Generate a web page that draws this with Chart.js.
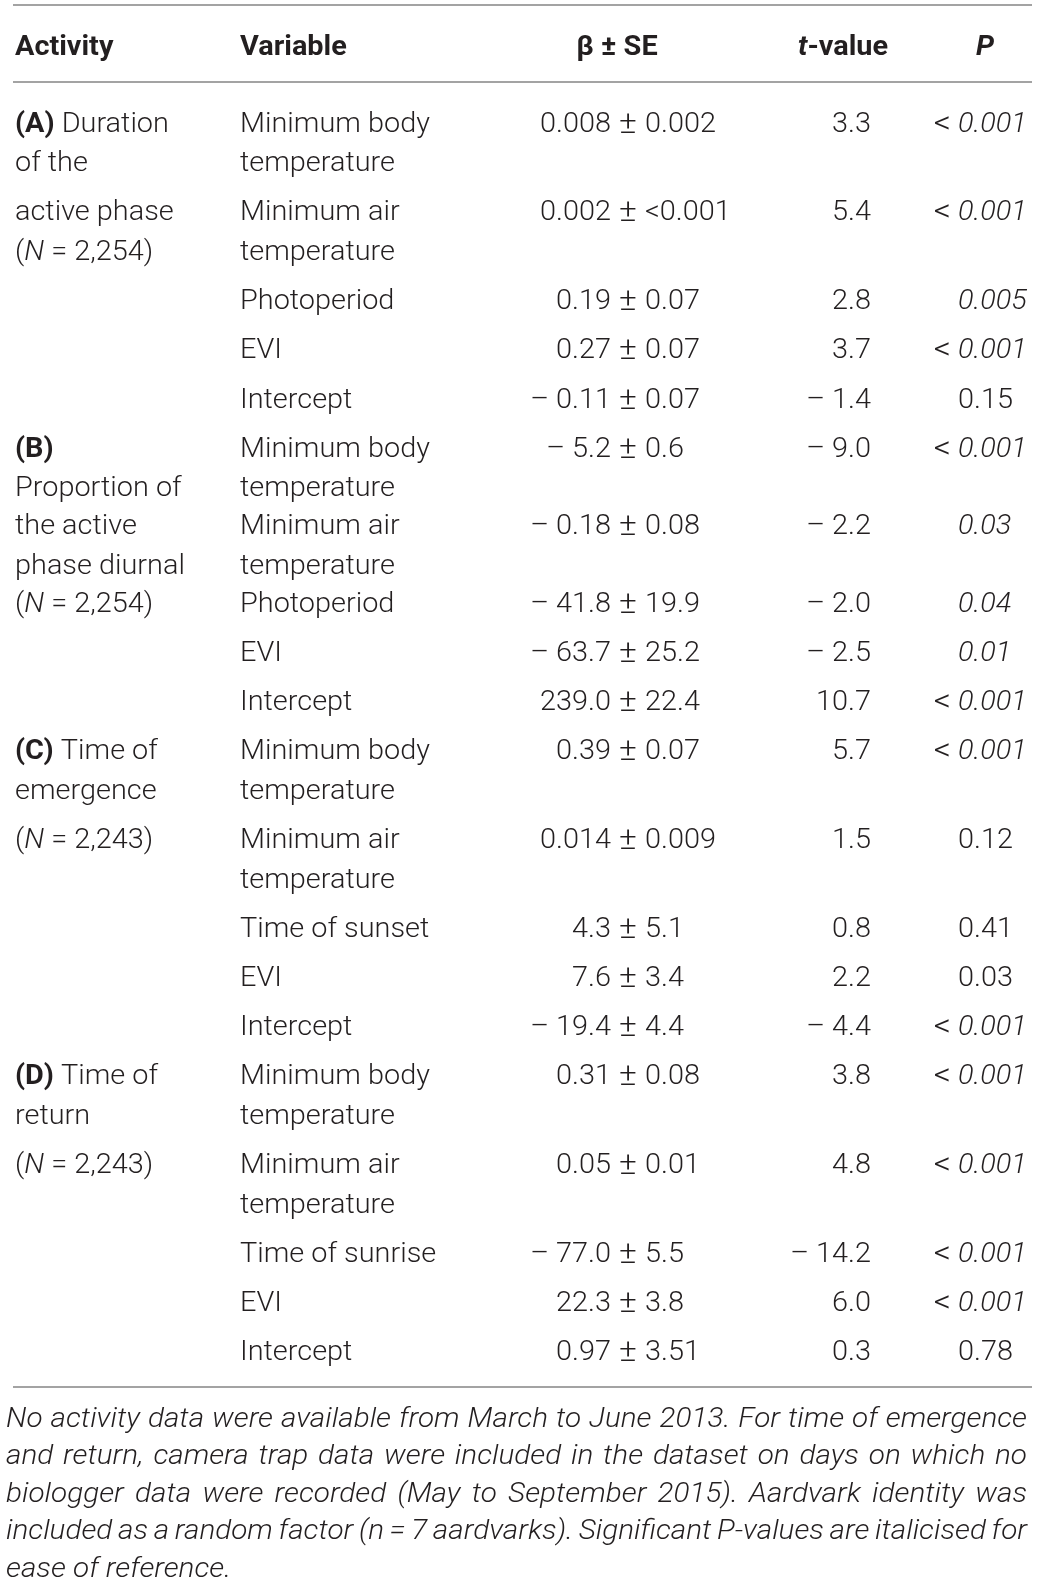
<!DOCTYPE html>
<html>
<head>
<meta charset="utf-8">
<script src="https://cdn.jsdelivr.net/npm/chart.js@4.4.1/dist/chart.umd.min.js"></script>
<style>
  html, body { margin: 0; padding: 0; background: #fff; }
  #wrap { width: 1041px; height: 1582px; }
</style>
</head>
<body>
<div id="wrap"><canvas id="tableChart"></canvas></div>
<script>
// Table content. Markup: *bold*, _italic_
const headers = ['*Activity*', '*Variable*', '*β ± SE*', '*_t_-value*', '*_P_*'];

const activityLabels = [
  ['*(A)* Duration', 'of the', 'active phase', '(_N_ = 2,254)'],
  ['*(B)*', 'Proportion of', 'the active', 'phase diurnal', '(_N_ = 2,254)'],
  ['*(C)* Time of', 'emergence', '(_N_ = 2,243)'],
  ['*(D)* Time of', 'return', '(_N_ = 2,243)']
];

const variableNames = [
  [['Minimum body', 'temperature'], ['Minimum air', 'temperature'], ['Photoperiod'], ['EVI'], ['Intercept']],
  [['Minimum body', 'temperature'], ['Minimum air', 'temperature'], ['Photoperiod'], ['EVI'], ['Intercept']],
  [['Minimum body', 'temperature'], ['Minimum air', 'temperature'], ['Time of sunset'], ['EVI'], ['Intercept']],
  [['Minimum body', 'temperature'], ['Minimum air', 'temperature'], ['Time of sunrise'], ['EVI'], ['Intercept']]
];

const betaValues = [
  ['0.008', '0.002', '0.19', '0.27', '– 0.11'],
  ['– 5.2', '– 0.18', '– 41.8', '– 63.7', '239.0'],
  ['0.39', '0.014', '4.3', '7.6', '– 19.4'],
  ['0.31', '0.05', '– 77.0', '22.3', '0.97']
];

const seValues = [
  ['0.002', '<0.001', '0.07', '0.07', '0.07'],
  ['0.6', '0.08', '19.9', '25.2', '22.4'],
  ['0.07', '0.009', '5.1', '3.4', '4.4'],
  ['0.08', '0.01', '5.5', '3.8', '3.51']
];

const tValues = [
  ['3.3', '5.4', '2.8', '3.7', '– 1.4'],
  ['– 9.0', '– 2.2', '– 2.0', '– 2.5', '10.7'],
  ['5.7', '1.5', '0.8', '2.2', '– 4.4'],
  ['3.8', '4.8', '– 14.2', '6.0', '0.3']
];

const pValues = [
  ['< _0.001_', '< _0.001_', '_0.005_', '< _0.001_', '0.15'],
  ['< _0.001_', '_0.03_', '_0.04_', '_0.01_', '< _0.001_'],
  ['< _0.001_', '0.12', '0.41', '0.03', '< _0.001_'],
  ['< _0.001_', '< _0.001_', '< _0.001_', '< _0.001_', '0.78']
];

const footnoteLines = [
  'No activity data were available from March to June 2013. For time of emergence',
  'and return, camera trap data were included in the dataset on days on which no',
  'biologger data were recorded (May to September 2015). Aardvark identity was',
  'included as a random factor (n = 7 aardvarks). Significant P-values are italicised for',
  'ease of reference.'
];

// Layout
const FONT = "Roboto, 'Helvetica Neue', 'Liberation Sans', Arial, sans-serif";
const SIZE = 27.5;
const NOTE_SIZE = 27;
const SIGN_SIZE = 32;       // ± and < are drawn larger in the original
const STRETCH = 1.05;       // Roboto runs a bit narrower than the original face
const NOTE_STRETCH = 1.1;
const TEXT_COLOR = '#231f20';
const RULE_COLOR = '#a3a3a3';
const COL = { activity: 15, variable: 240, pm: 628, t: 871, p: 958, betaHead: 617, tHead: 843, pHead: 985 };
const HEADER_Y = 45;
const RULES_Y = [5, 82, 1387];
const RULE_X = [13, 1032];
const NOTE_X = [6, 1027];
const NOTE_Y0 = 1417, NOTE_GAP = 37.5;
const FIRST_LINE = 122, LINE_GAP = 39.5, ROW_GAP = 49.2, TIGHT_GAP = 38;
const tightGroups = [false, true, false, false];

// Work out the y of every text line
const cells = { activity: [], variable: [], beta: [], t: [], p: [] };
let y = FIRST_LINE - ROW_GAP;
variableNames.forEach((rows, g) => {
  const groupLines = [];
  rows.forEach((lines, r) => {
    y += (tightGroups[g] && (r === 1 || r === 2)) ? TIGHT_GAP : ROW_GAP;
    lines.forEach((txt, k) => {
      if (k > 0) y += LINE_GAP;
      groupLines.push(y);
      cells.variable.push({ x: COL.variable, y: y, text: txt });
    });
    const rowTop = groupLines[groupLines.length - lines.length];
    cells.beta.push({ x: COL.pm, y: rowTop, text: [betaValues[g][r], seValues[g][r]] });
    cells.t.push({ x: COL.t, y: rowTop, text: tValues[g][r] });
    cells.p.push({ x: COL.p, y: rowTop, text: pValues[g][r] });
  });
  activityLabels[g].forEach((txt, k) => {
    cells.activity.push({ x: COL.activity, y: groupLines[k], text: txt });
  });
});

const headerCells = [
  { x: COL.activity, y: HEADER_Y, text: headers[0], align: 'left' },
  { x: COL.variable, y: HEADER_Y, text: headers[1], align: 'left' },
  { x: COL.betaHead, y: HEADER_Y, text: headers[2], align: 'center' },
  { x: COL.tHead, y: HEADER_Y, text: headers[3], align: 'center' },
  { x: COL.pHead, y: HEADER_Y, text: headers[4], align: 'center' }
];

const noteCells = footnoteLines.map((txt, i) => ({ x: NOTE_X[0], y: NOTE_Y0 + i * NOTE_GAP, text: txt }));

function parseRuns(s) {
  const runs = [];
  let b = false, it = false, buf = '';
  for (const ch of s) {
    if (ch === '*' || ch === '_') {
      if (buf) runs.push({ t: buf, b: b, i: it });
      buf = '';
      if (ch === '*') b = !b; else it = !it;
    } else {
      buf += ch;
    }
  }
  if (buf) runs.push({ t: buf, b: b, i: it });
  return runs;
}

function fontFor(run, size) {
  return (run.i ? 'italic ' : '') + (run.b ? '700 ' : '300 ') + size + 'px ' + FONT;
}

function runsWidth(ctx, runs, size) {
  let w = 0;
  runs.forEach(r => { ctx.font = fontFor(r, size); w += ctx.measureText(r.t).width; });
  return w * STRETCH;
}

function drawRuns(ctx, runs, x, y, size, align) {
  const w = runsWidth(ctx, runs, size);
  const x0 = align === 'right' ? x - w : align === 'center' ? x - w / 2 : x;
  ctx.save();
  ctx.translate(x0, y);
  ctx.scale(STRETCH, 1);
  let cx = 0;
  runs.forEach(r => {
    ctx.font = fontFor(r, size);
    ctx.fillText(r.t, cx, 0);
    cx += ctx.measureText(r.t).width;
  });
  ctx.restore();
}

const plain = t => [{ t: t, b: false, i: false }];

// draws the text of every cell at the pixel its point got from the scales
const tableText = {
  id: 'tableText',
  afterDatasetsDraw(chart) {
    const ctx = chart.ctx;
    ctx.save();
    ctx.fillStyle = TEXT_COLOR;
    ctx.textBaseline = 'alphabetic';
    ctx.textAlign = 'left';
    chart.data.datasets.forEach((ds, di) => {
      if (!ds.kind) return;
      const meta = chart.getDatasetMeta(di);
      meta.data.forEach((pt, i) => {
        const cell = ds.data[i];
        const px = pt.x;
        const size = ds.kind === 'note' ? NOTE_SIZE : SIZE;
        const py = pt.y + size * 0.355;
        if (ds.kind === 'text') {
          drawRuns(ctx, parseRuns(cell.text), px, py, size, cell.align || ds.align);
        } else if (ds.kind === 'pm') {
          const pmW = runsWidth(ctx, plain('±'), SIGN_SIZE);
          const sp = runsWidth(ctx, plain(' '), size) * 1.15;
          drawRuns(ctx, plain('±'), px, py + 1, SIGN_SIZE, 'center');
          drawRuns(ctx, plain(cell.text[0]), px - pmW / 2 - sp, py, size, 'right');
          drawRuns(ctx, plain(cell.text[1]), px + pmW / 2 + sp, py, size, 'left');
        } else if (ds.kind === 'p') {
          let txt = cell.text;
          if (txt.startsWith('< ')) {
            const sp = runsWidth(ctx, plain(' '), size);
            drawRuns(ctx, plain('<'), px - sp, py + 1, SIGN_SIZE, 'right');
            txt = txt.slice(2);
          }
          drawRuns(ctx, parseRuns(txt), px, py, size, 'left');
        } else if (ds.kind === 'note') {
          ctx.font = fontFor({ i: true }, size);
          const words = cell.text.split(' ');
          const last = i === meta.data.length - 1;
          const right = chart.scales.x.getPixelForValue(NOTE_X[1]);
          let sx = NOTE_STRETCH;
          const widths = words.map(w => ctx.measureText(w).width);
          const total = widths.reduce((a, b) => a + b, 0);
          const sp = ctx.measureText(' ').width;
          let gap = last ? sp * sx : (right - px - total * sx) / (words.length - 1);
          if (!last && gap < sp * 0.6 * sx) {
            sx = (right - px) / (total + sp * 0.6 * (words.length - 1));
            gap = sp * 0.6 * sx;
          }
          let cx = px;
          words.forEach((w, k) => {
            ctx.save();
            ctx.translate(cx, py);
            ctx.scale(sx, 1);
            ctx.fillText(w, 0, 0);
            ctx.restore();
            cx += widths[k] * sx + gap;
          });
        }
      });
    });
    ctx.restore();
  }
};

const ruleDatasets = RULES_Y.map(ry => ({
  type: 'line',
  data: [{ x: RULE_X[0], y: ry }, { x: RULE_X[1], y: ry }],
  borderColor: RULE_COLOR,
  borderWidth: 2,
  pointRadius: 0,
  fill: false
}));

const textSet = (data, kind, align) => ({
  type: 'scatter',
  data: data,
  kind: kind,
  align: align,
  pointRadius: 0,
  pointHoverRadius: 0
});

new Chart(document.getElementById('tableChart').getContext('2d'), {
  type: 'scatter',
  data: {
    datasets: [
      ...ruleDatasets,
      textSet(headerCells, 'text', 'left'),
      textSet(cells.activity, 'text', 'left'),
      textSet(cells.variable, 'text', 'left'),
      textSet(cells.beta, 'pm', 'center'),
      textSet(cells.t, 'text', 'right'),
      textSet(cells.p, 'p', 'left'),
      textSet(noteCells, 'note', 'left')
    ]
  },
  options: {
    responsive: true,
    maintainAspectRatio: false,
    animation: false,
    layout: { padding: 0 },
    plugins: { legend: { display: false }, tooltip: { enabled: false } },
    scales: {
      x: { type: 'linear', min: 0, max: 1041, display: false },
      y: { type: 'linear', min: 0, max: 1582, reverse: true, display: false }
    }
  },
  plugins: [tableText]
});
</script>
</body>
</html>
